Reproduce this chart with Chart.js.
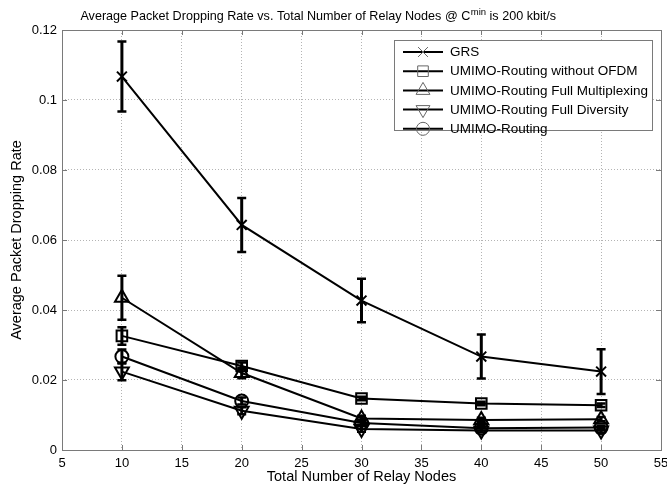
<!DOCTYPE html>
<html>
<head>
<meta charset="utf-8">
<script src="https://cdn.jsdelivr.net/npm/chart.js@4.4.0/dist/chart.umd.min.js"></script>
<style>
html,body{margin:0;padding:0;background:#fff;}
#wrap{width:667px;height:485px;position:relative;}
</style>
</head>
<body>
<div id="wrap"><canvas id="c" width="667" height="485"></canvas></div>
<script>
// ---- Data ----
const relayNodes = [10, 20, 30, 40, 50];
const seriesNames = ["GRS", "UMIMO-Routing without OFDM", "UMIMO-Routing Full Multiplexing", "UMIMO-Routing Full Diversity", "UMIMO-Routing"];
const grs          = [0.1067, 0.0643, 0.0427, 0.0267, 0.0224];
const grsErr       = [0.0100, 0.0077, 0.0062, 0.0063, 0.0064];
const noOfdm       = [0.0326, 0.0240, 0.0147, 0.0133, 0.0128];
const noOfdmErr    = [0.0025, 0.0010, 0.0005, 0.0005, 0.0005];
const fullMux      = [0.0435, 0.0220, 0.0090, 0.0086, 0.0088];
const fullMuxErr   = [0.0063, 0.0015, 0.0008, 0.0006, 0.0006];
const fullDiv      = [0.0224, 0.0112, 0.0060, 0.0056, 0.0056];
const fullDivErr   = [0.0025, 0.0010, 0.0008, 0.0006, 0.0006];
const umimo        = [0.0267, 0.0140, 0.0077, 0.0062, 0.0064];
const umimoErr     = [0.0020, 0.0010, 0.0008, 0.0006, 0.0006];
const xTicks = [5, 10, 15, 20, 25, 30, 35, 40, 45, 50, 55];
const yTicks = [0, 0.02, 0.04, 0.06, 0.08, 0.1, 0.12];
const titleMain = "Average Packet Dropping Rate vs. Total Number of Relay Nodes @ C";
const titleSup = "min";
const titleTail = " is 200 kbit/s";

const FONT = "'Liberation Sans', Arial, sans-serif";
const allValues = [grs, noOfdm, fullMux, fullDiv, umimo];
const allErrors = [grsErr, noOfdmErr, fullMuxErr, fullDivErr, umimoErr];
const styles = [
  {pointStyle: 'crossRot', radius: 7, rotation: 0},
  {pointStyle: 'rect', radius: 7.5, rotation: 0},
  {pointStyle: 'triangle', radius: 8, rotation: 0},
  {pointStyle: 'triangle', radius: 8, rotation: 180},
  {pointStyle: 'circle', radius: 6.5, rotation: 0}
];

const datasets = allValues.map((vals, i) => ({
  label: seriesNames[i],
  data: relayNodes.map((x, j) => ({x: x, y: vals[j]})),
  errors: allErrors[i],
  borderColor: '#000',
  backgroundColor: 'rgba(0,0,0,0)',
  borderWidth: 2,
  pointStyle: styles[i].pointStyle,
  pointRadius: styles[i].radius,
  pointRotation: styles[i].rotation,
  pointBorderWidth: 2,
  pointBorderColor: '#000',
  pointBackgroundColor: 'rgba(0,0,0,0)',
  tension: 0,
  fill: false
}));

function drawMarker(ctx, style, x, y, r, rot) {
  ctx.beginPath();
  if (style === 'crossRot') {
    const o = r * Math.SQRT1_2;
    ctx.moveTo(x - o, y - o); ctx.lineTo(x + o, y + o);
    ctx.moveTo(x - o, y + o); ctx.lineTo(x + o, y - o);
  } else if (style === 'rect') {
    const s = r * Math.SQRT1_2;
    ctx.rect(x - s, y - s, 2 * s, 2 * s);
  } else if (style === 'triangle') {
    let rad = rot * Math.PI / 180;
    ctx.moveTo(x + Math.sin(rad) * r, y - Math.cos(rad) * r);
    rad += 2 * Math.PI / 3;
    ctx.lineTo(x + Math.sin(rad) * r, y - Math.cos(rad) * r);
    rad += 2 * Math.PI / 3;
    ctx.lineTo(x + Math.sin(rad) * r, y - Math.cos(rad) * r);
    ctx.closePath();
  } else {
    ctx.arc(x, y, r, 0, Math.PI * 2);
  }
  ctx.stroke();
}

const framePlugin = {
  id: 'frame',
  beforeDatasetsDraw(chart) {
    const {ctx, chartArea: a, scales} = chart;
    ctx.save();
    ctx.strokeStyle = '#7a7a7a';
    ctx.lineWidth = 1;
    ctx.beginPath();
    xTicks.forEach(t => {
      const px = Math.round(scales.x.getPixelForValue(t)) + 0.5;
      ctx.moveTo(px, a.bottom); ctx.lineTo(px, a.bottom - 5);
      ctx.moveTo(px, a.top); ctx.lineTo(px, a.top + 5);
    });
    yTicks.forEach(t => {
      const py = Math.round(scales.y.getPixelForValue(t)) + 0.5;
      ctx.moveTo(a.left, py); ctx.lineTo(a.left + 5, py);
      ctx.moveTo(a.right, py); ctx.lineTo(a.right - 5, py);
    });
    ctx.stroke();
    ctx.strokeRect(Math.round(a.left) + 0.5, Math.round(a.top) + 0.5, Math.round(a.right - a.left), Math.round(a.bottom - a.top));
    ctx.restore();
  },
  afterDatasetsDraw(chart) {
    const {ctx, scales} = chart;
    ctx.save();
    ctx.strokeStyle = '#000';
    chart.data.datasets.forEach(ds => {
      ds.data.forEach((p, j) => {
        const e = ds.errors[j];
        if (!e) return;
        const px = scales.x.getPixelForValue(p.x);
        const pt = scales.y.getPixelForValue(p.y + e);
        const pb = scales.y.getPixelForValue(p.y - e);
        ctx.lineWidth = 3;
        ctx.beginPath();
        ctx.moveTo(px, pt); ctx.lineTo(px, pb);
        ctx.stroke();
        ctx.lineWidth = 2.5;
        ctx.beginPath();
        ctx.moveTo(px - 4.5, pt); ctx.lineTo(px + 4.5, pt);
        ctx.moveTo(px - 4.5, pb); ctx.lineTo(px + 4.5, pb);
        ctx.stroke();
      });
    });
    // legend
    const lx = 394.5, ly = 40.5, lw = 258, lh = 90;
    ctx.fillStyle = '#fff';
    ctx.fillRect(lx, ly, lw, lh);
    ctx.strokeStyle = '#7a7a7a';
    ctx.lineWidth = 1;
    ctx.strokeRect(lx, ly, lw, lh);
    ctx.font = '13.5px ' + FONT;
    ctx.textBaseline = 'middle';
    ctx.textAlign = 'left';
    chart.data.datasets.forEach((ds, i) => {
      const y = 52 + i * 19.2;
      ctx.strokeStyle = '#000';
      ctx.lineWidth = 2;
      ctx.beginPath();
      ctx.moveTo(403, y); ctx.lineTo(443, y);
      ctx.stroke();
      ctx.strokeStyle = '#666';
      ctx.lineWidth = 1;
      drawMarker(ctx, styles[i].pointStyle, 423, y, styles[i].radius, styles[i].rotation);
      ctx.fillStyle = '#000';
      ctx.fillText(ds.label, 450, y + 0.5);
    });
    ctx.restore();
  },
  afterDraw(chart) {
    const ctx = chart.ctx;
    ctx.save();
    ctx.fillStyle = '#000';
    ctx.textBaseline = 'alphabetic';
    ctx.textAlign = 'left';
    const f1 = '12.6px ' + FONT, f2 = '9.5px ' + FONT;
    ctx.font = f1;
    const w1 = ctx.measureText(titleMain).width;
    const w3 = ctx.measureText(titleTail).width;
    ctx.font = f2;
    const w2 = ctx.measureText(titleSup).width;
    const total = w1 + w2 + w3;
    let x = 318 - total / 2;
    const base = 20;
    ctx.font = f1; ctx.fillText(titleMain, x, base); x += w1;
    ctx.font = f2; ctx.fillText(titleSup, x + 0.5, base - 5); x += w2 + 0.5;
    ctx.font = f1; ctx.fillText(titleTail, x, base);
    ctx.restore();
  }
};

const zeroPad = () => ({left: 0, top: 0, right: 0, bottom: 0});

new Chart(document.getElementById('c'), {
  type: 'line',
  data: {datasets: datasets},
  options: {
    responsive: false,
    animation: false,
    devicePixelRatio: 1,
    layout: {autoPadding: false, padding: {top: 30, right: 6, left: 0, bottom: 0}},
    plugins: {legend: {display: false}, title: {display: false}, tooltip: {enabled: false}},
    scales: {
      x: {
        type: 'linear', min: 5, max: 55,
        afterBuildTicks: s => { s.ticks = xTicks.map(v => ({value: v})); },
        afterFit: s => { s.height = 35; s.paddingLeft = 0; s.paddingRight = 0; s.getPadding = zeroPad; },
        grid: {color: '#b4b4b4', lineWidth: 1, drawTicks: false},
        border: {display: false, dash: [1, 2]},
        ticks: {color: '#000', font: {family: FONT, size: 13}, padding: 6, maxRotation: 0},
        title: {display: true, text: 'Total Number of Relay Nodes', color: '#000', font: {family: FONT, size: 14.5}, padding: {top: 0, bottom: -1}}
      },
      y: {
        type: 'linear', min: 0, max: 0.12,
        afterBuildTicks: s => { s.ticks = yTicks.map(v => ({value: v})); },
        afterFit: s => { s.width = 62; s.paddingTop = 0; s.paddingBottom = 0; s.getPadding = zeroPad; },
        grid: {color: '#b4b4b4', lineWidth: 1, drawTicks: false},
        border: {display: false, dash: [1, 2]},
        ticks: {color: '#000', font: {family: FONT, size: 13}, padding: 5, callback: v => String(Number(v.toFixed(4)))},
        title: {display: true, text: 'Average Packet Dropping Rate', color: '#000', font: {family: FONT, size: 14.5}, padding: {top: 8, bottom: 0}}
      }
    }
  },
  plugins: [framePlugin]
});
</script>
</body>
</html>
